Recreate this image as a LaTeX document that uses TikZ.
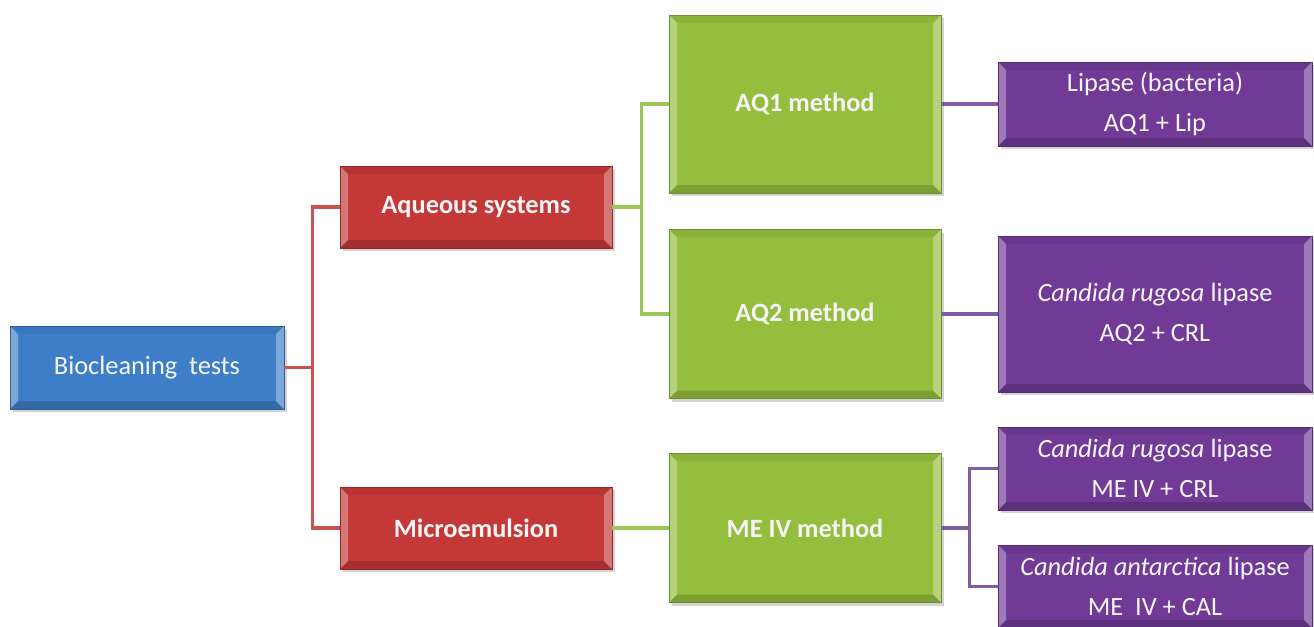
\documentclass[tikz,border=0pt]{standalone}
\usepackage{fontspec}
\setmainfont{Carlito}
\usetikzlibrary{shadows}
\definecolor{rootblue}{RGB}{62,126,200}
\definecolor{groupred}{RGB}{196,56,56}
\definecolor{methodgreen}{RGB}{150,190,62}
\definecolor{enzympurple}{RGB}{112,58,150}
\definecolor{redline}{RGB}{200,82,80}
\definecolor{greenline}{RGB}{155,200,85}
\definecolor{purpleline}{RGB}{128,92,162}
\tikzstyle{bevel} = [path picture={
    \fill[white, opacity=0.32] (path picture bounding box.north west) -- ([xshift=0.16cm,yshift=-0.16cm]path picture bounding box.north west) -- ([xshift=0.16cm,yshift=0.16cm]path picture bounding box.south west) -- (path picture bounding box.south west) -- cycle;
    \fill[white, opacity=0.32] (path picture bounding box.north east) -- ([xshift=-0.16cm,yshift=-0.16cm]path picture bounding box.north east) -- ([xshift=-0.16cm,yshift=0.16cm]path picture bounding box.south east) -- (path picture bounding box.south east) -- cycle;
    \fill[black, opacity=0.06] (path picture bounding box.north west) -- ([xshift=0.16cm,yshift=-0.16cm]path picture bounding box.north west) -- ([xshift=-0.16cm,yshift=-0.16cm]path picture bounding box.north east) -- (path picture bounding box.north east) -- cycle;
    \fill[black, opacity=0.16] (path picture bounding box.south west) -- ([xshift=0.16cm,yshift=0.16cm]path picture bounding box.south west) -- ([xshift=-0.16cm,yshift=0.16cm]path picture bounding box.south east) -- (path picture bounding box.south east) -- cycle;
  }]
\tikzstyle{box} = [rectangle, inner sep=0pt, align=center, text=white!96!black, font=\fontsize{15}{23}\selectfont, drop shadow={shadow xshift=0.05cm, shadow yshift=-0.06cm, opacity=0.35}, bevel]
\tikzstyle{rootbox} = [box, minimum width=5.48cm, minimum height=1.66cm, fill=rootblue, draw=rootblue!75!black]
\tikzstyle{groupbox} = [box, minimum width=5.44cm, minimum height=1.64cm, fill=groupred, draw=groupred!75!black, font=\fontsize{15}{23}\selectfont\bfseries]
\tikzstyle{methodbox} = [box, minimum width=5.44cm, fill=methodgreen, draw=methodgreen!75!black, font=\fontsize{15}{23}\selectfont\bfseries]
\tikzstyle{enzymebox} = [box, minimum width=6.28cm, fill=enzympurple, draw=enzympurple!75!black]
\tikzstyle{link} = [line width=1.8pt]

\begin{document}
\begin{tikzpicture}
    \useasboundingbox (0,0) rectangle (26.28,-12.52);
    % Boxes
    \node (bio) [rootbox] at (2.94,-7.35) {Biocleaning\ \ tests};
    \node (aqueous) [groupbox] at (9.52,-4.14) {Aqueous systems};
    \node (micro) [groupbox] at (9.52,-10.56) {Microemulsion};
    \node (aq1) [methodbox, minimum height=3.56cm] at (16.10,-2.08) {AQ1 method};
    \node (aq2) [methodbox, minimum height=3.38cm] at (16.10,-6.28) {AQ2 method};
    \node (me4) [methodbox, minimum height=2.98cm] at (16.10,-10.56) {ME IV method};
    \node (lipase) [enzymebox, minimum height=1.68cm] at (23.10,-2.08) {Lipase (bacteria)\\AQ1 + Lip};
    \node (crlaq) [enzymebox, minimum height=3.12cm] at (23.10,-6.28) {\textit{Candida rugosa} lipase\\AQ2 + CRL};
    \node (crlme) [enzymebox, minimum height=1.66cm] at (23.10,-9.37) {\textit{Candida rugosa} lipase\\ME IV + CRL};
    \node (cal) [enzymebox, minimum height=1.66cm] at (23.10,-11.73) {\textit{Candida antarctica} lipase\\ME\ \ IV + CAL};

    % Connectors
    \draw [link, redline] (bio.east) -- ++(0.56,0) |- (aqueous.west);
    \draw [link, redline] (bio.east) -- ++(0.56,0) |- (micro.west);
    \draw [link, greenline] (aqueous.east) -- ++(0.58,0) |- (aq1.west);
    \draw [link, greenline] (aqueous.east) -- ++(0.58,0) |- (aq2.west);
    \draw [link, greenline] (micro) -- (me4);
    \draw [link, purpleline] (aq1) -- (lipase);
    \draw [link, purpleline] (aq2) -- (crlaq);
    \draw [link, purpleline] (me4.east) -- ++(0.56,0) |- (crlme.west);
    \draw [link, purpleline] (me4.east) -- ++(0.56,0) |- (cal.west);
\end{tikzpicture}
\end{document}
